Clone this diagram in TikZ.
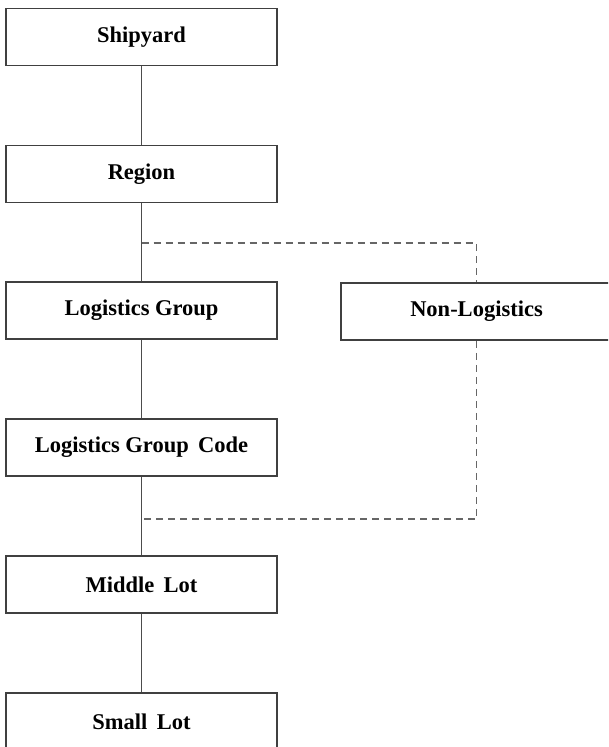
\documentclass[tikz,border=0pt]{standalone}
\usepackage{fontspec}
\setmainfont{Liberation Serif}
\begin{document}
\begin{tikzpicture}[x=1pt,y=-1pt,
  box/.style={draw=black!75, line width=1.5pt, fill=white, minimum width=271pt, minimum height=57pt, inner sep=0pt, font=\fontsize{22.5}{26}\selectfont\bfseries},
  link/.style={draw=black!70, line width=1.6pt},
  dlink/.style={draw=black!60, line width=1.5pt, dash pattern=on 7pt off 5pt}]
\useasboundingbox (0,0) rectangle (608,747);
\begin{scope}
\clip (0,0) rectangle (608,747);
\coordinate (d1) at (141.5,243);
\coordinate (d2) at (141.5,519);
\node[box] (ship) at (141.5,37) {Shipyard};
\node[box] (reg) at (141.5,174) {Region};
\node[box] (lg) at (141.5,310.5) {Logistics Group};
\node[box] (nl) at (476.5,311.5) {Non-Logistics};
\node[box] (lgc) at (141.5,447.5) {Logistics Group\, Code};
\node[box] (ml) at (141.5,584.5) {Middle\, Lot};
\node[box] (sl) at (141.5,721.5) {Small\, Lot};
\draw[link] (ship) -- (reg);
\draw[link] (reg) -- (lg);
\draw[link] (lg) -- (lgc);
\draw[link] (lgc) -- (ml);
\draw[link] (ml) -- (sl);
\draw[dlink] (d1) -| (nl.north);
\draw[dlink] (nl.south) |- (d2);
\end{scope}
\end{tikzpicture}
\end{document}
